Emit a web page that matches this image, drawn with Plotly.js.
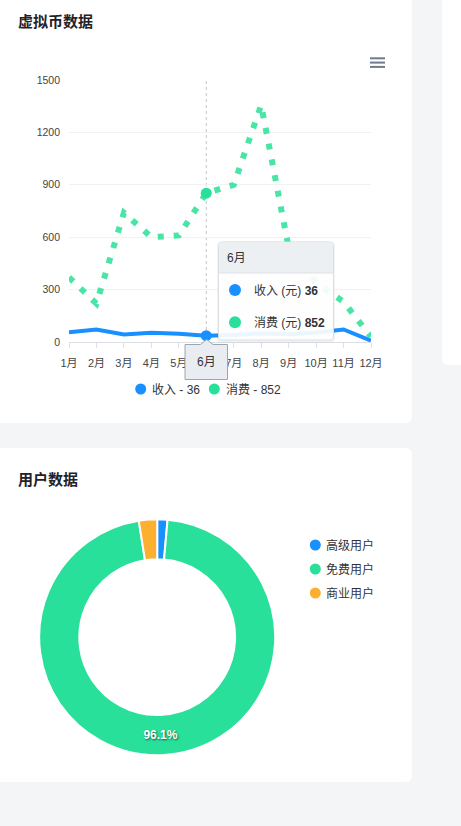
<!DOCTYPE html>
<html>
<head>
<meta charset="utf-8">
<script src="https://cdn.plot.ly/plotly-3.0.1.min.js"></script>
<style>
  html, body { margin: 0; padding: 0; background: #f4f5f7; width: 461px; height: 826px; overflow: hidden; }
  .card { position: absolute; background: #ffffff; }
  #c1 { left: 0; top: 0; width: 412px; height: 423px; border-radius: 0 0 6px 0; }
  #c2 { left: 0; top: 448px; width: 412px; height: 334px; border-radius: 0 6px 6px 0; }
  #c3 { left: 442px; top: 0; width: 40px; height: 365px; border-radius: 0 0 0 6px; }
</style>
</head>
<body>
<div class="card" id="c3"></div>
<div class="card" id="c1"></div>
<div class="card" id="c2"></div>
<script>
// ---------- data ----------
const months = ['1月','2月','3月','4月','5月','6月','7月','8月','9月','10月','11月','12月'];
const seriesNames = ['收入', '消费'];
const income = [56, 72, 43, 53, 47, 36, 40, 50, 45, 55, 72, 8];
const spend = [370, 220, 740, 600, 610, 852, 900, 1357, 540, 340, 230, 30];
const unit = '(元)';
const hoverIndex = 5;

const userTypes = ['高级用户', '免费用户', '商业用户'];
const userCounts = [14, 961, 25];

// ---------- styles ----------
const FONT = '"Liberation Sans", Arial, "Noto Sans CJK SC", sans-serif';
const BLUE = '#1890ff', GREEN = '#29e09a', ORANGE = '#fdb030';
const TEXT = '#333333';

// ---------- line chart ----------
const W1 = 412, H1 = 423;
const M1 = {l: 69, r: 41, t: 80, b: 81};
const PW = W1 - M1.l - M1.r, PH = H1 - M1.t - M1.b;
const fx = x => (x - M1.l) / PW;
const fy = y => (H1 - M1.b - y) / PH;

function rrPath(x0, y0, x1, y1, r, topOnly) {
  const P = (x, y) => fx(x).toFixed(5) + ',' + fy(y).toFixed(5);
  const rb = topOnly ? 0 : r;
  return 'M' + P(x0 + r, y0) + ' L' + P(x1 - r, y0) + ' Q' + P(x1, y0) + ' ' + P(x1, y0 + r) +
    ' L' + P(x1, y1 - rb) + (rb ? ' Q' + P(x1, y1) + ' ' + P(x1 - rb, y1) : '') +
    ' L' + P(x0 + rb, y1) + (rb ? ' Q' + P(x0, y1) + ' ' + P(x0, y1 - rb) : '') +
    ' L' + P(x0, y0 + r) + ' Q' + P(x0, y0) + ' ' + P(x0 + r, y0) + ' Z';
}
function dot(cx, cy, d, color) {
  return {type: 'circle', xref: 'paper', yref: 'paper', xsizemode: 'pixel', ysizemode: 'pixel',
    xanchor: fx(cx), yanchor: fy(cy), x0: -d / 2, x1: d / 2, y0: -d / 2, y1: d / 2,
    fillcolor: color, line: {width: 0}, layer: 'above'};
}
function hline(x0, x1, y, color, w) {
  return {type: 'line', xref: 'paper', yref: 'paper', x0: fx(x0), x1: fx(x1), y0: fy(y), y1: fy(y),
    line: {color: color, width: w}, layer: 'above'};
}
function label(x, y, text, opts) {
  return Object.assign({xref: 'paper', yref: 'paper', x: fx(x), y: fy(y), text: text, showarrow: false,
    xanchor: 'left', yanchor: 'middle', font: {family: FONT, size: 12, color: TEXT}}, opts || {});
}

const hx = months[hoverIndex];
const traces1 = [
  {type: 'scatter', mode: 'lines', x: months, y: income, name: seriesNames[0],
   line: {color: BLUE, width: 4}, showlegend: false, hoverinfo: 'none'},
  {type: 'scatter', mode: 'lines', x: months, y: spend, name: seriesNames[1],
   line: {color: 'rgba(41,224,152,0.85)', width: 6, dash: '6px,10px'}, showlegend: false, hoverinfo: 'none'},
  {type: 'scatter', mode: 'markers', x: [hx], y: [income[hoverIndex]], marker: {color: BLUE, size: 11},
   showlegend: false, cliponaxis: false, hoverinfo: 'none'},
  {type: 'scatter', mode: 'markers', x: [hx], y: [spend[hoverIndex]], marker: {color: GREEN, size: 11},
   showlegend: false, cliponaxis: false, hoverinfo: 'none'}
];

// tooltip geometry (pixels)
const TB = {x0: 218.5, y0: 242, x1: 333.5, y1: 340, head: 273};
const shapes1 = [
  {type: 'line', xref: 'x', yref: 'paper', x0: hx, x1: hx, y0: 0, y1: 1,
   line: {color: '#c4c4c4', width: 1, dash: '3px,3px'}, layer: 'below'},
  {type: 'path', xref: 'paper', yref: 'paper', path: rrPath(TB.x0 - 1.5, TB.y0 - 0.5, TB.x1 + 1.5, TB.y1 + 2.5, 5),
   fillcolor: 'rgba(0,0,0,0.05)', line: {width: 0}, layer: 'above'},
  {type: 'path', xref: 'paper', yref: 'paper', path: rrPath(TB.x0, TB.y0, TB.x1, TB.y1, 4),
   fillcolor: 'rgba(255,255,255,0.92)', line: {color: '#dcdfe4', width: 1}, layer: 'above'},
  {type: 'path', xref: 'paper', yref: 'paper', path: rrPath(TB.x0 + 0.5, TB.y0 + 0.5, TB.x1 - 0.5, TB.head, 4, true),
   fillcolor: 'rgba(236,239,243,0.96)', line: {width: 0}, layer: 'above'},
  hline(TB.x0 + 0.5, TB.x1 - 0.5, TB.head, '#dcdfe4', 1),
  dot(235, 290, 12, BLUE),
  dot(235, 322.3, 12, GREEN),
  // x-axis pointer label box
  {type: 'path', xref: 'paper', yref: 'paper',
   path: 'M' + fx(185) + ',' + fy(344.5) + ' L' + fx(200.5) + ',' + fy(344.5) + ' L' + fx(206.7) + ',' + fy(339.5) +
     ' L' + fx(213) + ',' + fy(344.5) + ' L' + fx(227.5) + ',' + fy(344.5) + ' L' + fx(227.5) + ',' + fy(379.5) +
     ' L' + fx(185) + ',' + fy(379.5) + ' Z',
   fillcolor: '#e9edf1', line: {color: '#9ba6b3', width: 1}, layer: 'above'},
  // menu icon
  hline(370, 385, 58.3, '#6d7b8c', 2),
  hline(370, 385, 62.6, '#6d7b8c', 2),
  hline(370, 385, 66.9, '#6d7b8c', 2),
  // legend dots
  dot(140.7, 389, 11, BLUE),
  dot(214.3, 389, 11, GREEN)
];
const annotations1 = [
  label(225, 257.5, hx),
  label(251.5, 290.5, seriesNames[0] + ' ' + unit + ' <b>' + income[hoverIndex] + '</b>'),
  label(251.5, 322.5, seriesNames[1] + ' ' + unit + ' <b>' + spend[hoverIndex] + '</b>'),
  label(206.5, 362, hx, {xanchor: 'center'}),
  label(150, 389.5, seriesNames[0] + ' - ' + income[hoverIndex]),
  label(224, 389.5, seriesNames[1] + ' - ' + spend[hoverIndex])
];

const layout1 = {
  width: W1, height: H1, margin: M1,
  paper_bgcolor: 'rgba(0,0,0,0)', plot_bgcolor: 'rgba(0,0,0,0)',
  font: {family: FONT, color: TEXT},
  title: {text: '虚拟币数据', xref: 'container', yref: 'container', x: 18 / W1, xanchor: 'left',
          y: 1 - 22 / H1, yanchor: 'middle', font: {family: FONT, size: 15, color: '#1f2329', weight: 600}},
  xaxis: {type: 'category', categoryorder: 'array', categoryarray: months, range: [0, 11],
          tickmode: 'array', tickvals: months, ticktext: months.map((m, i) => i === hoverIndex ? '' : m),
          showgrid: false, showline: true, linecolor: '#dcdfe6', linewidth: 1, zeroline: false,
          ticks: 'outside', ticklen: 5, tickcolor: '#dcdfe6', tickwidth: 1, ticklabelstandoff: 6,
          tickfont: {family: FONT, size: 11, color: '#444'}, fixedrange: true},
  yaxis: {range: [0, 1500], tick0: 0, dtick: 300, showgrid: true, gridcolor: '#f1f2f4', gridwidth: 1,
          zeroline: false, showline: false, ticks: '', ticklabelstandoff: 8,
          tickfont: {family: FONT, size: 10.5, color: '#444'}, fixedrange: true},
  showlegend: false,
  shapes: shapes1,
  annotations: annotations1
};
Plotly.newPlot('c1', traces1, layout1, {displayModeBar: false, staticPlot: true});

// ---------- donut chart ----------
const W2 = 412, H2 = 334;
const gx = x => x / W2, gy = y => (H2 - y) / H2;
const CX = 157.2, CY = 189.2, R = 118;
const pieColors = [BLUE, GREEN, ORANGE];
const biggest = userCounts.indexOf(Math.max.apply(null, userCounts));
const traces2 = [{
  type: 'pie', labels: userTypes, values: userCounts, sort: false, direction: 'clockwise', rotation: 0,
  hole: 0.66, marker: {colors: pieColors, line: {color: '#ffffff', width: 2}},
  texttemplate: userCounts.map((v, i) => i === biggest ? '%{percent:.1%}' : ''),
  textposition: 'inside', insidetextorientation: 'horizontal',
  textfont: {family: FONT, size: 12, color: '#ffffff', weight: 'bold', shadow: '1px 1px 2px rgba(0,60,30,0.8)'},
  domain: {x: [gx(CX - R), gx(CX + R)], y: [gy(CY + R), gy(CY - R)]},
  showlegend: false, hoverinfo: 'none'
}];
const legendY = [97, 121, 145];
const shapes2 = userTypes.map((t, i) => ({type: 'circle', xref: 'paper', yref: 'paper', xsizemode: 'pixel', ysizemode: 'pixel',
  xanchor: gx(315.3), yanchor: gy(legendY[i]), x0: -5.5, x1: 5.5, y0: -5.5, y1: 5.5,
  fillcolor: pieColors[i], line: {width: 0}}));
const annotations2 = userTypes.map((t, i) => ({xref: 'paper', yref: 'paper', x: gx(324), y: gy(legendY[i] + 0.5), text: t,
  showarrow: false, xanchor: 'left', yanchor: 'middle', font: {family: FONT, size: 12, color: TEXT}}));
const layout2 = {
  width: W2, height: H2, margin: {l: 0, r: 0, t: 0, b: 0},
  paper_bgcolor: 'rgba(0,0,0,0)',
  font: {family: FONT, color: TEXT},
  title: {text: '用户数据', xref: 'container', yref: 'container', x: 18 / W2, xanchor: 'left',
          y: 1 - 32 / H2, yanchor: 'middle', font: {family: FONT, size: 15, color: '#1f2329', weight: 600}},
  showlegend: false,
  shapes: shapes2,
  annotations: annotations2
};
Plotly.newPlot('c2', traces2, layout2, {displayModeBar: false, staticPlot: true});
</script>
</body>
</html>
